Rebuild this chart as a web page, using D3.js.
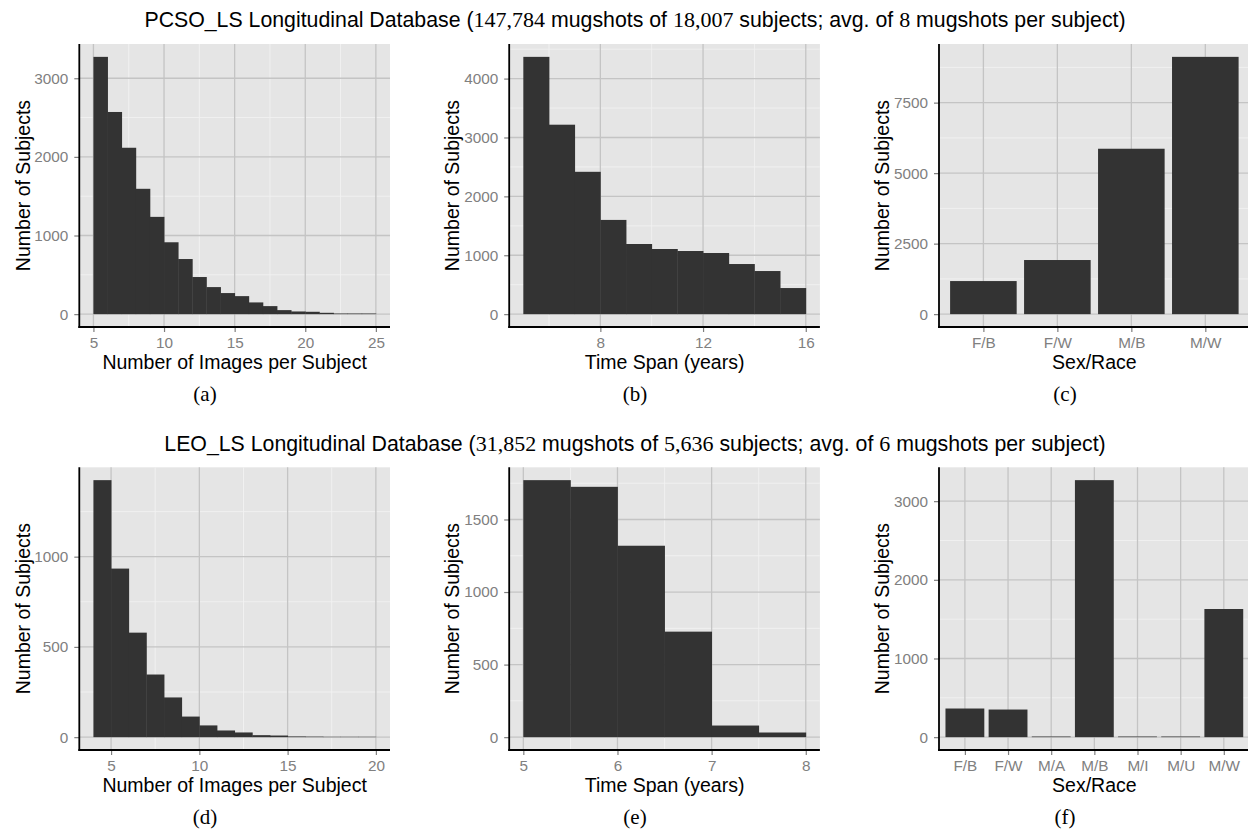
<!DOCTYPE html>
<html>
<head>
<meta charset="utf-8">
<script src="https://cdn.jsdelivr.net/npm/d3@7"></script>
<style>
  body { margin: 0; background: #fff; }
  svg { display: block; }
</style>
</head>
<body>
<div id="chart-area"></div>
<script>
// ---- data ----
// PCSO_LS
const pcsoImgStarts = [5,6,7,8,9,10,11,12,13,14,15,16,17,18,19,20,21,22,23,24];
const pcsoImgCounts = [3272,2571,2116,1594,1237,914,701,472,344,268,229,149,102,51,34,30,17,8,8,8];
const pcsoSpanStarts = [5,6,7,8,9,10,11,12,13,14,15];
const pcsoSpanCounts = [4369,3217,2417,1600,1191,1106,1072,1038,851,732,443];
const pcsoSexRace = ["F/B","F/W","M/B","M/W"];
const pcsoSexCounts = [1173,1919,5865,9123];

// LEO_LS
const leoImgStarts = [4,5,6,7,8,9,10,11,12,13,14,15,16,17,18,19];
const leoImgCounts = [1424,934,579,347,220,114,65,37,26,11,9,4,3,2,2,2];
const leoSpanStarts = [5,5.5,6,6.5,7,7.5];
const leoSpanCounts = [1771,1725,1319,727,80,32];
const leoSexRace = ["F/B","F/W","M/A","M/B","M/I","M/U","M/W"];
const leoSexCounts = [364,351,8,3267,8,8,1629];

// tick labels
const ticksA_x = [5,10,15,20,25], ticksA_y = [0,1000,2000,3000];
const ticksB_x = [8,12,16],       ticksB_y = [0,1000,2000,3000,4000];
const ticksC_y = [0,2500,5000,7500];
const ticksD_x = [5,10,15,20],    ticksD_y = [0,500,1000];
const ticksE_x = [5,6,7,8],       ticksE_y = [0,500,1000,1500];
const ticksF_y = [0,1000,2000,3000];

// title pieces (numbers are typeset as math in the original)
const title1 = ["PCSO_LS Longitudinal Database (", "147,784", " mugshots of ", "18,007", " subjects; avg. of ", "8", " mugshots per subject)"];
const title2 = ["LEO_LS Longitudinal Database (", "31,852", " mugshots of ", "5,636", " subjects; avg. of ", "6", " mugshots per subject)"];
const captions = ["(a)","(b)","(c)","(d)","(e)","(f)"];

// ---- layout ----
const W = 1248, H = 829;
const cols = [79.3, 509.2, 939];
const panelW = 310.7;
const rows = [{top: 44, bottom: 327}, {top: 467.3, bottom: 750}];
const sans = "'Liberation Sans', Arial, Helvetica, sans-serif";
const serif = "'Liberation Serif', 'Times New Roman', serif";

const svg = d3.select("#chart-area")
  .append("svg")
    .attr("width", W)
    .attr("height", H);

// minor breaks halfway between majors, kept inside the domain
function minorBreaks(ticks, domain) {
  const step = ticks[1] - ticks[0];
  const out = [];
  for (let v = ticks[0] - step / 2; v <= ticks[ticks.length - 1] + step; v += step) {
    if (v > domain[0] && v < domain[1]) out.push(v);
  }
  return out;
}

function frame(g, x, y, x0, top, bottom, xTicks, yTicks, xMinor) {
  const x1 = x0 + panelW;
  g.append("rect")
    .attr("x", x0).attr("y", top)
    .attr("width", panelW).attr("height", bottom - top)
    .attr("fill", "#e5e5e5");

  // minor grid
  const yMinor = minorBreaks(yTicks, y.domain());
  g.selectAll(".ymin").data(yMinor).enter().append("line")
    .attr("x1", x0).attr("x2", x1)
    .attr("y1", d => y(d)).attr("y2", d => y(d))
    .attr("stroke", "#f2f2f2").attr("stroke-width", 0.9);
  g.selectAll(".xmin").data(xMinor).enter().append("line")
    .attr("y1", top).attr("y2", bottom)
    .attr("x1", d => x(d)).attr("x2", d => x(d))
    .attr("stroke", "#f2f2f2").attr("stroke-width", 0.9);

  // major grid
  g.selectAll(".ymaj").data(yTicks).enter().append("line")
    .attr("x1", x0).attr("x2", x1)
    .attr("y1", d => y(d)).attr("y2", d => y(d))
    .attr("stroke", "#c4c4c4").attr("stroke-width", 1.3);
  g.selectAll(".xmaj").data(xTicks).enter().append("line")
    .attr("y1", top).attr("y2", bottom)
    .attr("x1", d => x(d)).attr("x2", d => x(d))
    .attr("stroke", "#c4c4c4").attr("stroke-width", 1.3);
}

function axes(g, x, y, x0, top, bottom, xTicks, yTicks, xTitle) {
  const yCall = d3.axisLeft(y).tickValues(yTicks).tickFormat(d => String(d))
    .tickSize(5).tickPadding(6).tickSizeOuter(0);
  const yApp = g.append("g").attr("transform", "translate(" + x0 + ",0)").call(yCall);
  const xCall = d3.axisBottom(x).tickSize(5).tickPadding(5).tickSizeOuter(0);
  if (xTicks) xCall.tickValues(xTicks).tickFormat(d => String(d));
  const xApp = g.append("g").attr("transform", "translate(0," + bottom + ")").call(xCall);

  [yApp, xApp].forEach(a => {
    a.select(".domain").remove();
    a.selectAll(".tick line").attr("stroke", "#7f7f7f").attr("stroke-width", 1.2);
    a.selectAll(".tick text")
      .attr("fill", "#808080")
      .style("font-family", sans)
      .style("font-size", "15.3px");
  });

  // axis lines
  g.append("line")
    .attr("x1", x0).attr("x2", x0).attr("y1", top).attr("y2", bottom + 0.9)
    .attr("stroke", "#000").attr("stroke-width", 1.8);
  g.append("line")
    .attr("x1", x0 - 0.9).attr("x2", x0 + panelW).attr("y1", bottom).attr("y2", bottom)
    .attr("stroke", "#000").attr("stroke-width", 1.8);

  // axis titles
  g.append("text")
    .attr("transform", "translate(" + (x0 - 49.8) + "," + ((top + bottom) / 2) + ") rotate(-90)")
    .attr("text-anchor", "middle")
    .style("font-family", sans).style("font-size", "19.5px")
    .text("Number of Subjects");
  g.append("text")
    .attr("x", x0 + panelW / 2)
    .attr("y", bottom + 41.5)
    .attr("text-anchor", "middle")
    .style("font-family", sans).style("font-size", "19.5px")
    .text(xTitle);
}

function histPanel(col, row, starts, counts, binW, xTicks, yTicks, xTitle) {
  const x0 = cols[col], top = rows[row].top, bottom = rows[row].bottom;
  const g = svg.append("g");
  const lo = starts[0], hi = starts[starts.length - 1] + binW;
  const padX = (hi - lo) * 0.05;
  const x = d3.scaleLinear().domain([lo - padX, hi + padX]).range([x0, x0 + panelW]);
  const maxV = d3.max(counts);
  const y = d3.scaleLinear().domain([-0.05 * maxV, 1.05 * maxV]).range([bottom, top]);

  frame(g, x, y, x0, top, bottom, xTicks, yTicks, minorBreaks(xTicks, x.domain()));

  g.selectAll(".bar").data(starts).enter().append("rect")
    .attr("x", d => x(d))
    .attr("width", d => x(d + binW) - x(d) + 0.4)
    .attr("y", (d, i) => y(counts[i]))
    .attr("height", (d, i) => y(0) - y(counts[i]))
    .attr("fill", "#333333");

  axes(g, x, y, x0, top, bottom, xTicks, yTicks, xTitle);
}

function barPanel(col, row, cats, counts, yTicks) {
  const x0 = cols[col], top = rows[row].top, bottom = rows[row].bottom;
  const g = svg.append("g");
  const x = d3.scaleBand().domain(cats).range([x0, x0 + panelW]).paddingInner(0.1).paddingOuter(0.15);
  const xc = d => x(d) + x.bandwidth() / 2;
  const maxV = d3.max(counts);
  const y = d3.scaleLinear().domain([-0.05 * maxV, 1.05 * maxV]).range([bottom, top]);

  // band centres used for the vertical grid
  const xPos = Object.assign(d => xc(d), { domain: () => [x0, x0 + panelW] });
  frame(g, xPos, y, x0, top, bottom, cats, yTicks, []);

  g.selectAll(".bar").data(cats).enter().append("rect")
    .attr("x", d => x(d))
    .attr("width", x.bandwidth())
    .attr("y", (d, i) => y(counts[i]))
    .attr("height", (d, i) => y(0) - y(counts[i]))
    .attr("fill", "#333333");

  // point scale so ticks sit on band centres
  const xc2 = d3.scalePoint().domain(cats).range([xc(cats[0]), xc(cats[cats.length - 1])]);
  axes(g, xc2, y, x0, top, bottom, null, yTicks, "Sex/Race");
}

histPanel(0, 0, pcsoImgStarts, pcsoImgCounts, 1, ticksA_x, ticksA_y, "Number of Images per Subject");
histPanel(1, 0, pcsoSpanStarts, pcsoSpanCounts, 1, ticksB_x, ticksB_y, "Time Span (years)");
barPanel(2, 0, pcsoSexRace, pcsoSexCounts, ticksC_y);
histPanel(0, 1, leoImgStarts, leoImgCounts, 1, ticksD_x, ticksD_y, "Number of Images per Subject");
histPanel(1, 1, leoSpanStarts, leoSpanCounts, 0.5, ticksE_x, ticksE_y, "Time Span (years)");
barPanel(2, 1, leoSexRace, leoSexCounts, ticksF_y);

// titles
function title(parts, baseline) {
  const t = svg.append("text")
    .attr("x", 635).attr("y", baseline)
    .attr("text-anchor", "middle")
    .style("font-family", sans).style("font-size", "21.3px");
  parts.forEach((p, i) => {
    t.append("tspan")
      .style("font-family", i % 2 ? serif : sans)
      .style("font-size", i % 2 ? "22px" : "21.3px")
      .text(p);
  });
}
title(title1, 27);
title(title2, 450.7);

// sub-captions
svg.selectAll(".cap").data(captions).enter().append("text")
  .attr("x", (d, i) => 205 + 430 * (i % 3))
  .attr("y", (d, i) => i < 3 ? 401 : 824)
  .attr("text-anchor", "middle")
  .style("font-family", serif).style("font-size", "21px")
  .text(d => d);
</script>
</body>
</html>
